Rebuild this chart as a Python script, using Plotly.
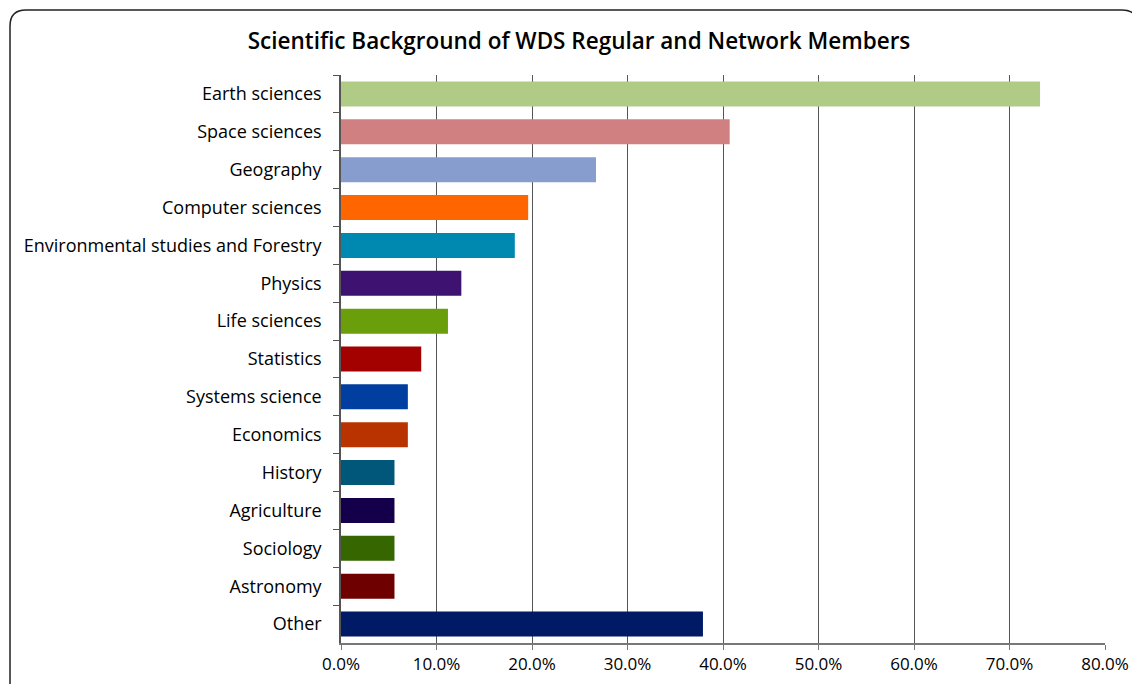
import plotly.graph_objects as go

categories = ["Earth sciences", "Space sciences", "Geography", "Computer sciences",
              "Environmental studies and Forestry", "Physics", "Life sciences", "Statistics",
              "Systems science", "Economics", "History", "Agriculture", "Sociology",
              "Astronomy", "Other"]
values = [0.732, 0.407, 0.267, 0.196, 0.182, 0.126, 0.112, 0.084, 0.070, 0.070,
          0.056, 0.056, 0.056, 0.056, 0.379]
colors = ["#AFCB86", "#D08080", "#869DCD", "#FF6600", "#0089B0", "#3D1270", "#6B9E0B",
          "#A30000", "#003F9F", "#B83300", "#00577A", "#14004A", "#356600", "#6E0000",
          "#001A66"]
tick_vals = [0, 0.1, 0.2, 0.3, 0.4, 0.5, 0.6, 0.7, 0.8]

OFF = 8  # browser body margin
W, H = 1140 - OFF, 684 - OFF
L, R, T, B = 341 - OFF, 35, 75 - OFF, 41
pw, ph = W - L - R, H - T - B

fig = go.Figure(go.Bar(
    x=values, y=categories, orientation="h",
    marker=dict(color=colors, line=dict(width=0)),
    hoverinfo="x+y",
))

def px(xp):
    return (xp - OFF - L) / pw

def py(yp):
    return (H - B - (yp - OFF)) / ph

x0, x1, y0, y1 = px(10), px(1138), py(10), py(700)
rx, ry = 16 / pw, 16 / ph
path = (f"M {x0},{y1} L {x0},{y0 - ry} Q {x0},{y0} {x0 + rx},{y0} "
        f"L {x1 - rx},{y0} Q {x1},{y0} {x1},{y0 - ry} L {x1},{y1}")

fig.update_layout(
    width=W, height=H,
    margin=dict(l=L, r=R, t=T, b=B),
    paper_bgcolor="white", plot_bgcolor="white",
    font=dict(family="Open Sans, Lato, sans-serif", size=18, color="#000"),
    title=dict(text="Scientific Background of WDS Regular and Network Members",
               x=(579 - OFF) / W, xanchor="center", y=1 - (41 - OFF) / H, yanchor="middle",
               font=dict(size=22.5, color="#000", weight=600)),
    bargap=0.34,
    showlegend=False,
    shapes=[dict(type="path", path=path, xref="paper", yref="paper",
                 line=dict(color="#222", width=1.5), layer="above")],
    xaxis=dict(range=[0, 0.8], tickvals=tick_vals, tickformat=".1%",
               showgrid=True, gridcolor="#555", gridwidth=1,
               showline=True, linecolor="#777", linewidth=2,
               ticks="outside", ticklen=5, tickcolor="#777",
               zeroline=False, tickfont=dict(size=17), automargin=False),
    yaxis=dict(autorange="reversed", showline=True, linecolor="#555", linewidth=1.5,
               ticks="outside", tickson="boundaries", ticklen=6, tickcolor="#555",
               showgrid=False, ticklabelstandoff=14, tickfont=dict(size=18)),
)

fig.write_html("out.html")
